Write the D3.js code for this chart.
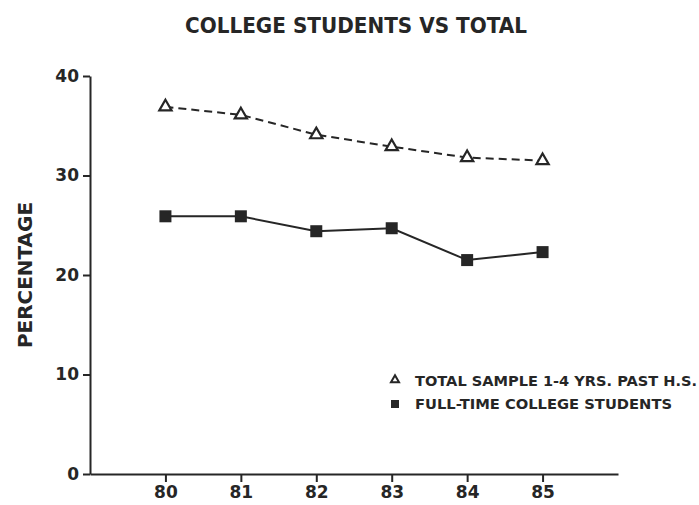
<!DOCTYPE html>
<html>
<head>
<meta charset="utf-8">
<script src="https://cdn.jsdelivr.net/npm/d3@7"></script>
<style>
  body { margin: 0; background: #fff; }
  text { font-family: "DejaVu Sans", sans-serif; font-weight: bold; fill: #262626; }
</style>
</head>
<body>
<svg id="chart" width="699" height="505"></svg>
<script>
// Chart data
const years = [80, 81, 82, 83, 84, 85];
const totalSample = [36.9, 36.1, 34.1, 32.9, 31.8, 31.5];
const fullTime = [25.9, 25.9, 24.4, 24.7, 21.5, 22.3];
const yTicks = [0, 10, 20, 30, 40];
const titleText = "COLLEGE STUDENTS VS TOTAL";
const yLabel = "PERCENTAGE";
const legendLabels = ["TOTAL SAMPLE 1-4 YRS. PAST H.S.", "FULL-TIME COLLEGE STUDENTS"];

const ink = "#262626";
const svg = d3.select("#chart");

const xScale = d3.scaleLinear().domain([79, 86]).range([90, 618]);
const yScale = d3.scaleLinear().domain([0, 40]).range([474, 76]);

/*************/
/*  Title    */
/*************/
svg.append("text")
  .attr("x", 356).attr("y", 33)
  .attr("text-anchor", "middle")
  .attr("font-size", 22)
  .attr("textLength", 342).attr("lengthAdjust", "spacingAndGlyphs")
  .text(titleText);

/*************/
/*  Axes     */
/*************/
const yAxis = svg.append("g")
  .attr("transform", "translate(90,0)")
  .call(d3.axisLeft(yScale).tickValues(yTicks).tickFormat(d3.format("d"))
    .tickSize(7).tickSizeOuter(0).tickPadding(4));

const xAxis = svg.append("g")
  .attr("transform", `translate(0,${yScale(0)})`)
  .call(d3.axisBottom(xScale).tickValues(years).tickFormat(d3.format("d"))
    .tickSize(8).tickSizeOuter(0).tickPadding(4));

[yAxis, xAxis].forEach(ax => {
  ax.select(".domain").attr("stroke", ink).attr("stroke-width", 2);
  ax.selectAll(".tick line").attr("stroke", ink).attr("stroke-width", 2);
  ax.selectAll(".tick text")
    .attr("fill", ink)
    .attr("font-family", "DejaVu Sans, sans-serif")
    .attr("font-weight", "bold")
    .attr("font-size", 17);
});

svg.append("text")
  .attr("transform", `translate(32,${(yScale(0) + yScale(40)) / 2}) rotate(-90)`)
  .attr("text-anchor", "middle")
  .attr("font-size", 19)
  .attr("textLength", 146).attr("lengthAdjust", "spacingAndGlyphs")
  .text(yLabel);

/*************/
/*  Lines    */
/*************/
const lineGen = d3.line()
  .x((d, i) => xScale(years[i]))
  .y(d => yScale(d));

svg.append("path")
  .datum(totalSample)
  .attr("d", lineGen)
  .attr("fill", "none")
  .attr("stroke", ink)
  .attr("stroke-width", 2)
  .attr("stroke-dasharray", "8,5");

svg.append("path")
  .datum(fullTime)
  .attr("d", lineGen)
  .attr("fill", "none")
  .attr("stroke", ink)
  .attr("stroke-width", 2);

const triangle = d3.symbol().type(d3.symbolTriangle);

svg.selectAll(".tri")
  .data(totalSample)
  .join("path")
    .attr("class", "tri")
    .attr("transform", (d, i) => `translate(${xScale(years[i])},${yScale(d)})`)
    .attr("d", triangle.size(65))
    .attr("fill", "#fff")
    .attr("stroke", ink)
    .attr("stroke-width", 2.2);

svg.selectAll(".sq")
  .data(fullTime)
  .join("rect")
    .attr("class", "sq")
    .attr("x", (d, i) => xScale(years[i]) - 6)
    .attr("y", d => yScale(d) - 6)
    .attr("width", 12).attr("height", 12)
    .attr("fill", ink);

/*************/
/*  Legend   */
/*************/
const legend = svg.append("g");

legend.append("path")
  .attr("transform", "translate(395,380)")
  .attr("d", d3.symbol().type(d3.symbolTriangle).size(28)())
  .attr("fill", "#fff")
  .attr("stroke", ink)
  .attr("stroke-width", 2);

legend.append("rect")
  .attr("x", 391).attr("y", 400)
  .attr("width", 8).attr("height", 8)
  .attr("fill", ink);

legend.append("text")
  .attr("x", 415).attr("y", 386)
  .attr("font-size", 14)
  .attr("textLength", 282).attr("lengthAdjust", "spacingAndGlyphs")
  .text(legendLabels[0]);

legend.append("text")
  .attr("x", 415).attr("y", 409)
  .attr("font-size", 14)
  .attr("textLength", 257).attr("lengthAdjust", "spacingAndGlyphs")
  .text(legendLabels[1]);
</script>
</body>
</html>
